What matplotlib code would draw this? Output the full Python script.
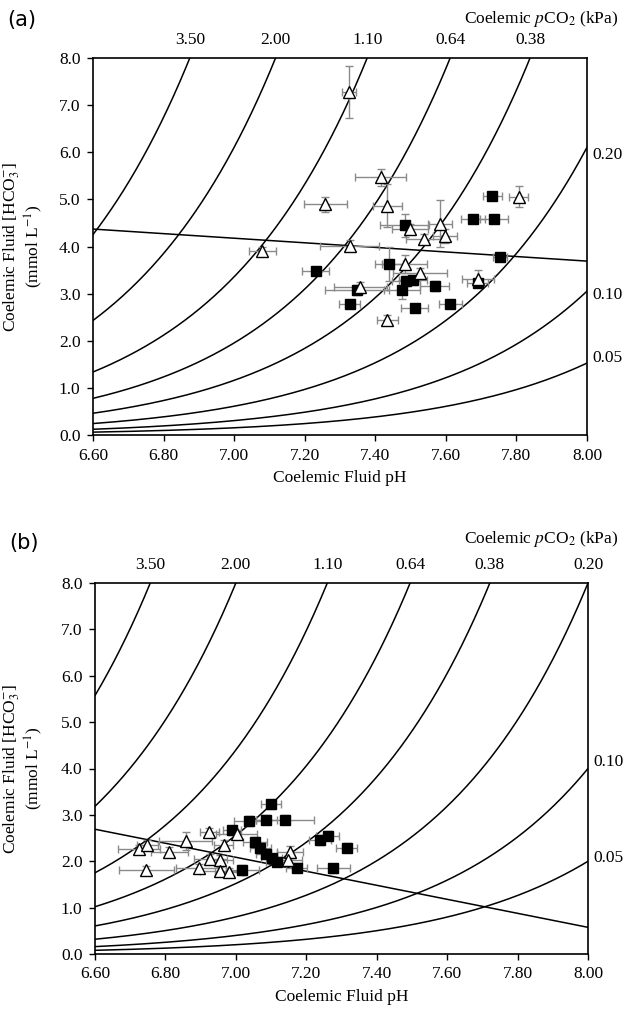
import numpy as np
import matplotlib
matplotlib.use("Agg")
import matplotlib.pyplot as plt

plt.rcParams['font.family'] = ['Liberation Serif', 'DejaVu Serif']
plt.rcParams['mathtext.fontset'] = 'stix'

# ---------------- data ----------------
pco2_levels = [3.50, 2.00, 1.10, 0.64, 0.38, 0.20, 0.10, 0.05]
pco2_labels = ["3.50", "2.00", "1.10", "0.64", "0.38", "0.20", "0.10", "0.05"]

# Henderson-Hasselbalch constants per panel (alpha: mmol L-1 kPa-1)
pK_a, alpha_a = 6.10, 0.3843
pK_b, alpha_b = 6.00, 0.400

# buffer lines (pH, HCO3)
buf_a_ph = [6.60, 8.00]
buf_a_hco3 = [4.37, 3.69]
buf_b_ph = [6.60, 8.00]
buf_b_hco3 = [2.69, 0.575]

# panel (a) open triangles
tri_a_ph = [7.325, 7.415, 7.258, 7.434, 7.498, 7.583, 7.537, 7.598, 7.327, 7.080,
            7.483, 7.526, 7.358, 7.691, 7.806, 7.434]
tri_a_hco3 = [7.27, 5.47, 4.90, 4.87, 4.37, 4.48, 4.16, 4.23, 4.02, 3.90,
              3.63, 3.44, 3.13, 3.32, 5.06, 2.45]
tri_a_xerr = [0.020, 0.072, 0.061, 0.041, 0.052, 0.035, 0.050, 0.034, 0.084, 0.039,
              0.063, 0.076, 0.076, 0.045, 0.028, 0.030]
tri_a_yerr = [0.55, 0.18, 0.16, 0.45, 0.10, 0.50, 0.10, 0.15, 0.12, 0.08,
              0.20, 0.10, 0.12, 0.18, 0.23, 0.10]

# panel (a) filled squares
sq_a_ph = [7.732, 7.677, 7.736, 7.483, 7.753, 7.439, 7.231, 7.348, 7.488, 7.507,
           7.476, 7.568, 7.327, 7.512, 7.613, 7.690]
sq_a_hco3 = [5.07, 4.58, 4.58, 4.45, 3.77, 3.63, 3.47, 3.08, 3.27, 3.29,
             3.08, 3.16, 2.79, 2.69, 2.79, 3.22]
sq_a_xerr = [0.028, 0.035, 0.040, 0.070, 0.020, 0.039, 0.039, 0.090, 0.040, 0.040,
             0.050, 0.040, 0.030, 0.038, 0.032, 0.030]
sq_a_yerr = [0.08, 0.08, 0.08, 0.25, 0.08, 0.37, 0.08, 0.10, 0.10, 0.10,
             0.20, 0.10, 0.08, 0.08, 0.08, 0.08]

# panel (b) open triangles
tri_b_ph = [6.725, 6.749, 6.745, 6.811, 6.858, 6.925, 6.894, 6.927, 6.955, 6.965,
            6.955, 6.981, 7.002, 7.154, 7.149]
tri_b_hco3 = [2.26, 2.35, 1.81, 2.21, 2.44, 2.64, 1.85, 2.05, 2.03, 2.35,
              1.80, 1.77, 2.58, 2.20, 2.03]
tri_b_xerr = [0.059, 0.030, 0.078, 0.052, 0.075, 0.027, 0.064, 0.047, 0.038, 0.026,
              0.057, 0.040, 0.057, 0.038, 0.038]
tri_b_yerr = [0.10, 0.10, 0.08, 0.10, 0.20, 0.08, 0.08, 0.10, 0.10, 0.10,
              0.08, 0.08, 0.10, 0.12, 0.10]

# panel (b) filled squares
sq_b_ph = [7.100, 7.037, 7.086, 7.140, 6.990, 7.054, 7.069, 7.086, 7.102, 7.118,
           7.173, 7.018, 7.239, 7.261, 7.315, 7.277]
sq_b_hco3 = [3.23, 2.87, 2.90, 2.90, 2.67, 2.42, 2.28, 2.16, 2.06, 1.99,
             1.86, 1.81, 2.46, 2.55, 2.29, 1.85]
sq_b_xerr = [0.028, 0.043, 0.030, 0.083, 0.026, 0.035, 0.030, 0.030, 0.030, 0.033,
             0.030, 0.047, 0.030, 0.033, 0.030, 0.047]
sq_b_yerr = [0.10, 0.10, 0.10, 0.10, 0.10, 0.10, 0.10, 0.10, 0.10, 0.10,
             0.10, 0.10, 0.10, 0.10, 0.10, 0.10]

# label placement: which pCO2 labels go on top vs right, with right-label heights
top_a = ["3.50", "2.00", "1.10", "0.64", "0.38"]
right_a = {"0.20": 5.94, "0.10": 2.97, "0.05": 1.63}
top_b = ["3.50", "2.00", "1.10", "0.64", "0.38", "0.20"]
right_b = {"0.10": 4.14, "0.05": 2.06}

xticks = [6.60, 6.80, 7.00, 7.20, 7.40, 7.60, 7.80, 8.00]
yticks = [0.0, 1.0, 2.0, 3.0, 4.0, 5.0, 6.0, 7.0, 8.0]

# ---------------- figure ----------------
W, H = 632, 1014
fig = plt.figure(figsize=(W / 100, H / 100), dpi=100)
fs = 12.5


def px_axes(l, t, r, b):
    return fig.add_axes([l / W, 1 - b / H, (r - l) / W, (b - t) / H])


def panel(ax, pK, alpha, buf_ph, buf_hco3, tph, th, txe, tye, sph, sh, sxe, sye,
          top_labels, right_labels, title_y_px, ax_w_px, ax_h_px, ax_l_px):
    ph = np.linspace(6.6, 8.0, 400)
    for p in pco2_levels:
        hc = alpha * p * 10 ** (ph - pK)
        ax.plot(ph, hc, color='black', lw=1.1, zorder=1)
    ax.plot(buf_ph, buf_hco3, color='black', lw=1.1, zorder=1)

    ekw = dict(fmt='none', ecolor='#8a8a8a', elinewidth=1.0, capsize=3, capthick=1.0, zorder=2)
    ax.errorbar(sph, sh, xerr=sxe, yerr=sye, **ekw)
    ax.errorbar(tph, th, xerr=txe, yerr=tye, **ekw)
    ax.plot(sph, sh, 's', ms=7, mfc='black', mec='black', zorder=3)
    ax.plot(tph, th, '^', ms=8, mfc='white', mec='black', mew=1.0, zorder=4)

    ax.set_xlim(6.6, 8.0)
    ax.set_ylim(0, 8)
    ax.set_xticks(xticks)
    ax.set_xticklabels([f"{v:.2f}" for v in xticks], fontsize=fs)
    ax.set_yticks(yticks)
    ax.set_yticklabels([f"{v:.1f}" for v in yticks], fontsize=fs)
    ax.tick_params(direction='out', length=4, width=1.0, pad=5)
    for s in ax.spines.values():
        s.set_linewidth(1.2)

    ax.set_xlabel("Coelemic Fluid pH", fontsize=fs, labelpad=5)
    ax.set_ylabel("Coelemic Fluid [HCO$_3^{-}$]\n(mmol L$^{-1}$)", fontsize=fs,
                  linespacing=1.05)
    ax.yaxis.set_label_coords(-(ax_l_px - 45) / ax_w_px, 0.5)

    # top pCO2 labels at the curve/top intersection
    for lab in top_labels:
        p = pco2_levels[pco2_labels.index(lab)]
        x_top = pK + np.log10(8.0 / (alpha * p))
        ax.annotate(lab, xy=(x_top, 8.0), xycoords='data',
                    xytext=(0, 7), textcoords='offset points',
                    ha='center', va='bottom', fontsize=fs, annotation_clip=False)
    for lab, yv in right_labels.items():
        ax.annotate(lab, xy=(8.0, yv), xycoords='data',
                    xytext=(4, 0), textcoords='offset points',
                    ha='left', va='center', fontsize=fs, annotation_clip=False)

    ax.text((618 - ax_l_px) / ax_w_px, 1.0 + title_y_px / ax_h_px,
            "Coelemic $p$CO$_2$ (kPa)", transform=ax.transAxes,
            ha='right', va='center', fontsize=fs)
    return ax


ax_a = px_axes(93, 58, 587, 435)
panel(ax_a, pK_a, alpha_a, buf_a_ph, buf_a_hco3,
      tri_a_ph, tri_a_hco3, tri_a_xerr, tri_a_yerr,
      sq_a_ph, sq_a_hco3, sq_a_xerr, sq_a_yerr, top_a, right_a,
      58 - 19, 494, 377, 93)

ax_b = px_axes(95, 583, 588, 954)
panel(ax_b, pK_b, alpha_b, buf_b_ph, buf_b_hco3,
      tri_b_ph, tri_b_hco3, tri_b_xerr, tri_b_yerr,
      sq_b_ph, sq_b_hco3, sq_b_xerr, sq_b_yerr, top_b, right_b,
      583 - 539, 493, 371, 95)

fig.text(22 / W, 1 - 20 / H, "(a)", fontsize=15, family='DejaVu Sans',
         ha='center', va='center')
fig.text(24 / W, 1 - 543 / H, "(b)", fontsize=15, family='DejaVu Sans',
         ha='center', va='center')

fig.savefig("out.png", dpi=100)
